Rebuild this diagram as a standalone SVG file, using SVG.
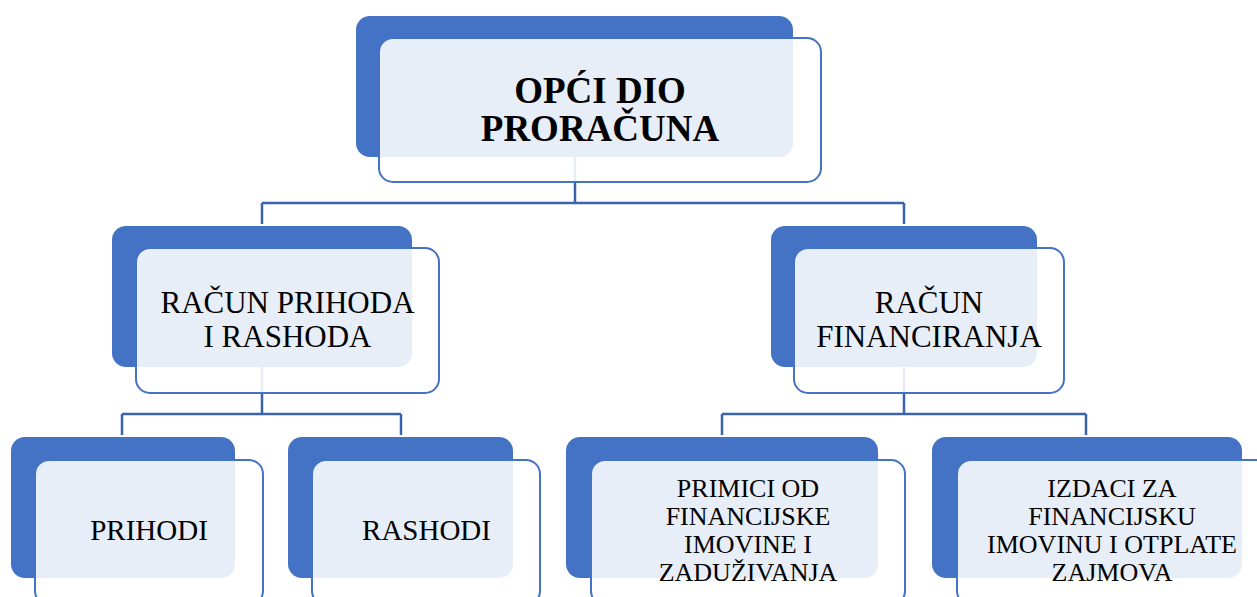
<svg xmlns="http://www.w3.org/2000/svg" width="1257" height="597" viewBox="0 0 1257 597">
<style>
.back{fill:#4472C4;}
.front{fill:#ffffff;fill-opacity:0.88;stroke:#4472C4;stroke-width:2;}
.conn{fill:none;stroke:#3B63AD;stroke-width:2.5;}
text{font-family:"Liberation Serif","Times New Roman",serif;fill:#000;text-anchor:middle;}
.t1{font-size:37px;font-weight:bold;}
.t2{font-size:31px;}
.t3{font-size:29px;}
.t4{font-size:26px;}
</style>
<rect width="1257" height="597" fill="#ffffff"/>
<g id="connectors">
<path class="conn" d="M575,157 V203 M262,203 H904 M262,203 V224 M904,203 V224"/>
<path class="conn" d="M262,367 V414 M122,414 H401 M122,414 V435 M401,414 V435"/>
<path class="conn" d="M904,367 V414 M722,414 H1086 M722,414 V435 M1086,414 V435"/>
</g>
<g id="node-opci">
<rect class="back" x="356" y="16" width="437" height="141" rx="14"/>
<rect class="front" x="379" y="38" width="442" height="144" rx="14"/>
<text class="t1" x="600" y="103">OPĆI DIO</text>
<text class="t1" x="600" y="141">PRORAČUNA</text>
</g>
<g id="node-racun-prihoda">
<rect class="back" x="112" y="226" width="300" height="141" rx="14"/>
<rect class="front" x="136" y="248" width="303" height="145" rx="14"/>
<text class="t2" x="287.5" y="313">RAČUN PRIHODA</text>
<text class="t2" x="287.5" y="347">I RASHODA</text>
</g>
<g id="node-racun-financiranja">
<rect class="back" x="771" y="226" width="266" height="141" rx="14"/>
<rect class="front" x="794" y="248" width="270" height="145" rx="14"/>
<text class="t2" x="929" y="313">RAČUN</text>
<text class="t2" x="929" y="347">FINANCIRANJA</text>
</g>
<g id="node-prihodi">
<rect class="back" x="11" y="437" width="224" height="141" rx="14"/>
<rect class="front" x="35" y="460" width="228" height="145" rx="14"/>
<text class="t3" x="149" y="540">PRIHODI</text>
</g>
<g id="node-rashodi">
<rect class="back" x="288" y="437" width="225" height="141" rx="14"/>
<rect class="front" x="312" y="460" width="228" height="145" rx="14"/>
<text class="t3" x="426.5" y="540">RASHODI</text>
</g>
<g id="node-primici">
<rect class="back" x="566" y="437" width="312" height="141" rx="14"/>
<rect class="front" x="591" y="460" width="314" height="145" rx="14"/>
<text class="t4" x="748" y="497">PRIMICI OD</text>
<text class="t4" x="748" y="525">FINANCIJSKE</text>
<text class="t4" x="748" y="553">IMOVINE I</text>
<text class="t4" x="748" y="581">ZADUŽIVANJA</text>
</g>
<g id="node-izdaci">
<rect class="back" x="932" y="437" width="310" height="141" rx="14"/>
<rect class="front" x="957" y="460" width="314" height="145" rx="14"/>
<text class="t4" x="1112" y="497">IZDACI ZA</text>
<text class="t4" x="1112" y="525">FINANCIJSKU</text>
<text class="t4" x="1112" y="553">IMOVINU I OTPLATE</text>
<text class="t4" x="1112" y="581">ZAJMOVA</text>
</g>
</svg>
